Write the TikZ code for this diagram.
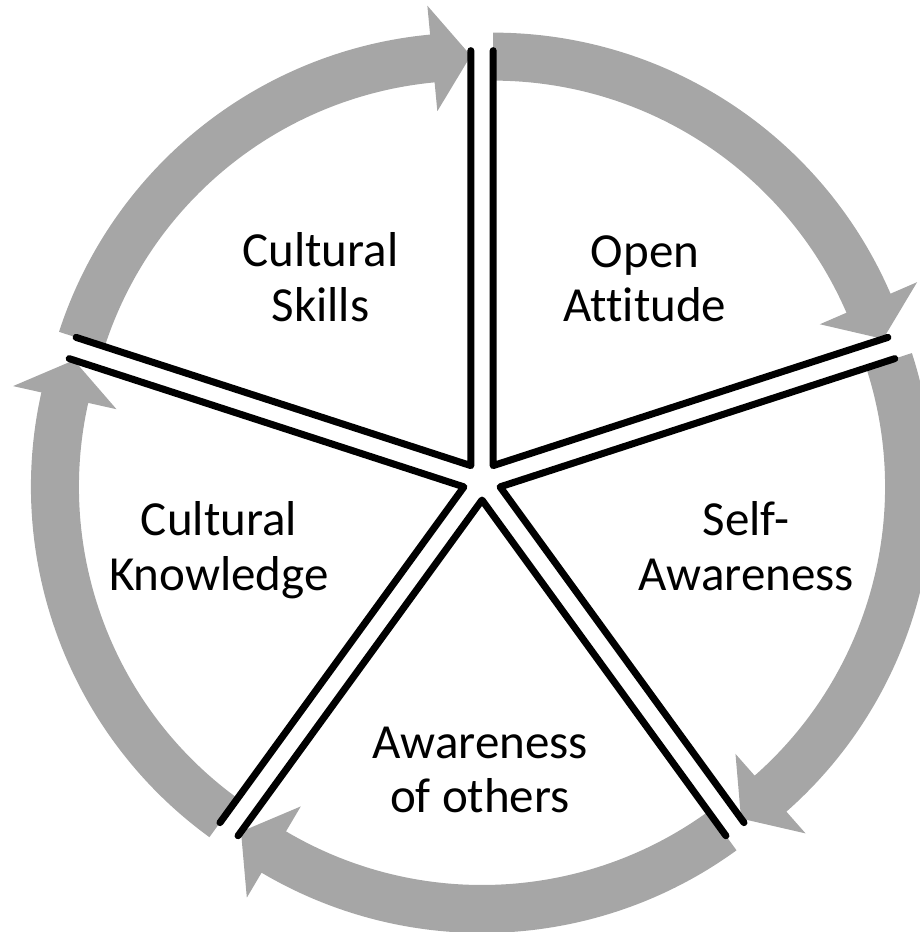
\documentclass[tikz,border=0pt]{standalone}
\usepackage{fontspec}
\setmainfont{Carlito}[Ligatures=NoCommon]
\definecolor{arrowgray}{RGB}{166,166,166}
\begin{document}
\begin{tikzpicture}[x=1pt,y=1pt,
  flow/.style={fill=arrowgray},
  edge/.style={draw=black,line width=7pt,line join=round,line cap=round},
  lbl/.style={font=\fontsize{49}{55}\selectfont, anchor=base, inner sep=0pt, text=black}]
\useasboundingbox (-482,-451) rectangle (437,481);
% gray circular arrows, one per sector
\foreach \t [evaluate=\t as \a using \t+36, evaluate=\t as \b using \t-36, evaluate=\t as \c using \t-30.6] in {126,54,-18,-90,198}{
  \begin{scope}[shift={(\t:19)}]
    \fill[flow] (\a:433) arc[start angle=\a, end angle=\c, radius=433] -- (\c:462) -- (\b:410) -- (\c:356) -- (\c:385) arc[start angle=\c, end angle=\a, radius=385] -- cycle;
  \end{scope}
}
% black sector borders
\foreach \t [evaluate=\t as \a using \t+36, evaluate=\t as \b using \t-36] in {126,54,-18,-90,198}{
  \begin{scope}[shift={(\t:19)}]
    \draw[edge] (\a:415) -- (0,0) -- (\b:415);
  \end{scope}
}
% labels
\node[lbl] (cs1) at (-161.5,214) {Cultural};
\node[lbl] (cs2) at (-161.5,159) {Skills};
\node[lbl] (oa1) at (163,213) {Open};
\node[lbl] (oa2) at (163,159) {Attitude};
\node[lbl] (sa1) at (264,-54) {Self-};
\node[lbl] (sa2) at (264,-109) {Awareness};
\node[lbl] (ao1) at (-2,-277) {Awareness};
\node[lbl] (ao2) at (-2,-331) {of others};
\node[lbl] (ck1) at (-263,-54) {Cultural};
\node[lbl] (ck2) at (-263,-109) {Knowledge};
\end{tikzpicture}
\end{document}
